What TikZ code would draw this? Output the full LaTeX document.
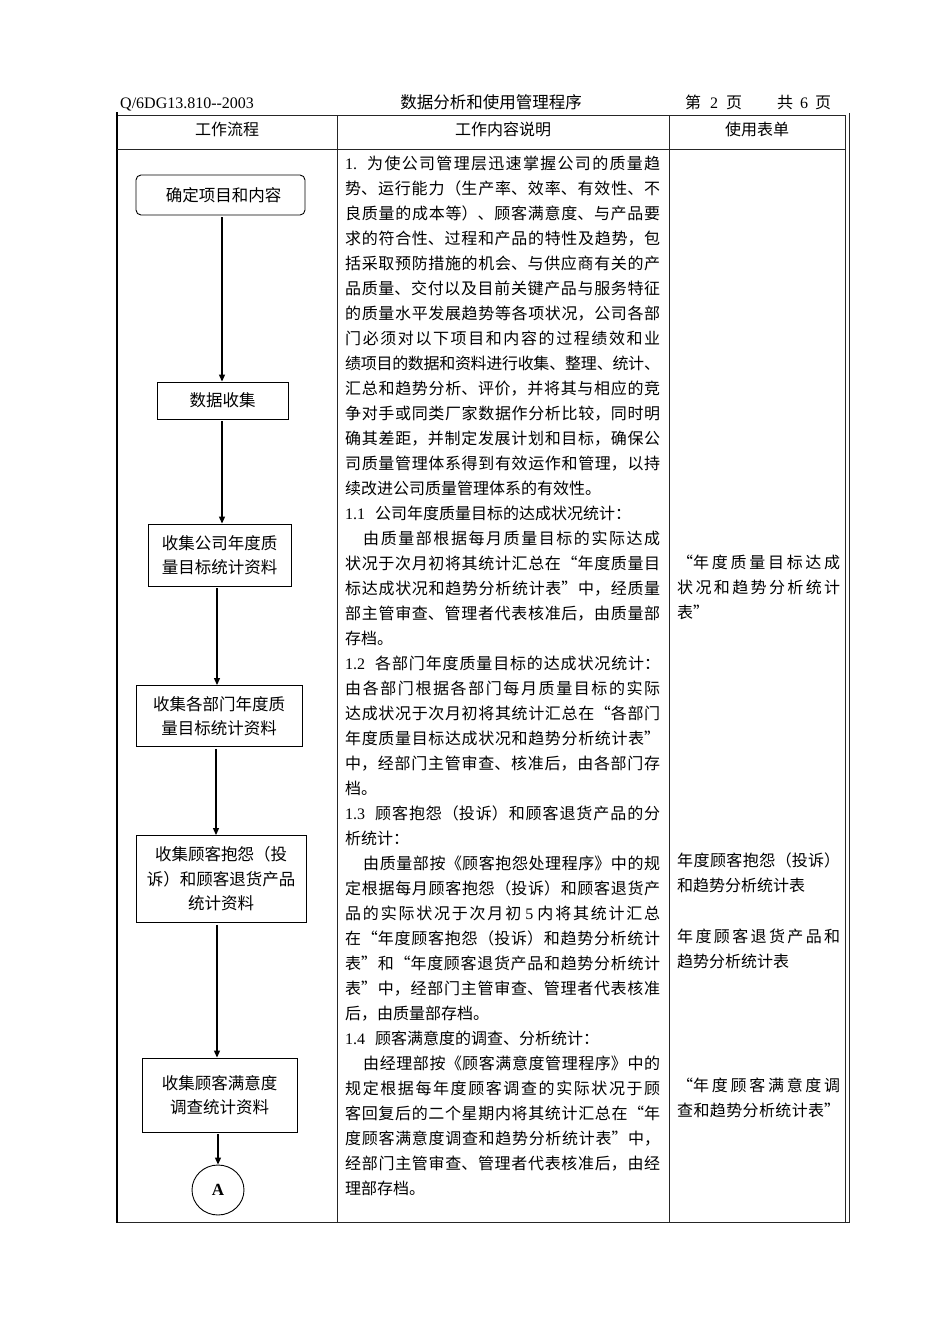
\documentclass[tikz,border=0pt]{standalone}
\usepackage{fontspec}
\setmainfont{Noto Sans CJK SC}
\newfontfamily\lat{Liberation Serif}
\usetikzlibrary{arrows.meta,shapes.geometric}
\XeTeXlinebreaklocale "zh"
\XeTeXlinebreakskip=0pt plus 6pt minus 1.5pt
\newcommand\jbox[2]{\parbox[t]{#1}{\parfillskip=0pt\tolerance=10000\pretolerance=-1 #2}}
\newcommand\Jl[2]{\node[ln] (m#1) at (345,{169+25*#1}) {\jbox{315pt}{#2}};}
\newcommand\Ji[2]{\node[ln] (m#1) at (363,{169+25*#1}) {\jbox{297pt}{#2}};}
\newcommand\Ll[2]{\node[ln] (m#1) at (345,{169+25*#1}) {#2};}
\begin{document}
\begin{tikzpicture}[x=1pt,y=-1pt,
  every node/.style={inner sep=0pt, font=\fontsize{16pt}{25pt}\selectfont},
  ln/.style={anchor=base west},
  tbl/.style={line width=1pt, draw=black!85},
  flow/.style={draw, line width=0.9pt, align=center, font=\fontsize{16.5pt}{24.5pt}\selectfont},
  arr/.style={-{Triangle[length=7pt,width=6pt]}, line width=1.2pt, shorten <=2pt}]
\useasboundingbox (0,0) rectangle (950,1344);
% header
\node[ln,font=\lat\fontsize{16pt}{18pt}\selectfont] (hcode) at (120,108) {Q/6DG13.810-{}-2003};
\node[anchor=base,font=\fontsize{16.5pt}{18pt}\selectfont] (htitle) at (491,108) {数据分析和使用管理程序};
\node[ln] (hpage) at (685,108) {第\hspace{9pt}{\lat 2}\hspace{8pt}页};
\node[ln] (htotal) at (777,108) {共\hspace{7pt}{\lat 6}\hspace{7pt}页};
% table
\draw[tbl] (117,115) rectangle (845,1222);
\draw[tbl] (849,113) -- (849,1223);
\draw[tbl] (845,1222) -- (849,1222);
\draw[line width=2pt] (117,112) -- (117,1223);
\draw[tbl] (117,149) -- (845,149);
\draw[tbl] (337,115) -- (337,1222);
\draw[tbl] (669,115) -- (669,1222);
\node[anchor=base] (c1) at (227,135) {工作流程};
\node[anchor=base] (c2) at (503,135) {工作内容说明};
\node[anchor=base] (c3) at (757,135) {使用表单};
% flow
\node[flow, rounded corners=5pt, minimum width=169, minimum height=40] (n1) at (220.5,195) {\hspace{6pt}确定项目和内容};
\node[flow, minimum width=131, minimum height=37] (n2) at (222.5,400.5) {数据收集};
\node[flow, minimum width=143, minimum height=62] (n3) at (219.5,555) {收集公司年度质\\量目标统计资料};
\node[flow, minimum width=166, minimum height=61] (n4) at (219,716) {收集各部门年度质\\量目标统计资料};
\node[flow, minimum width=170, minimum height=87] (n5) at (221,879) {收集顾客抱怨（投\\诉）和顾客退货产品\\统计资料};
\node[flow, minimum width=155, minimum height=74] (n6) at (219.5,1095) {收集顾客满意度\\调查统计资料};
\node[draw, ellipse, line width=0.9pt, minimum width=52, minimum height=50, font=\lat\bfseries\fontsize{17pt}{18pt}\selectfont] (nA) at (218,1190) {A};
\draw[arr] (n1.south -| 222,0) -- (n2.north -| 222,0);
\draw[arr] (n2.south -| 222,0) -- (n3.north -| 222,0);
\draw[arr] (n3.south -| 217,0) -- (n4.north -| 217,0);
\draw[arr] (n4.south -| 216,0) -- (n5.north -| 216,0);
\draw[arr] (n5.south -| 217,0) -- (n6.north -| 217,0);
\draw[arr] (n6.south -| 218,0) -- (nA.north -| 218,0);
% middle column
\Jl{0}{{\lat 1.}\hspace{10pt}为使公司管理层迅速掌握公司的质量趋}
\Jl{1}{势、运行能力（生产率、效率、有效性、不}
\Jl{2}{良质量的成本等）、顾客满意度、与产品要}
\Jl{3}{求的符合性、过程和产品的特性及趋势，包}
\Jl{4}{括采取预防措施的机会、与供应商有关的产}
\Jl{5}{品质量、交付以及目前关键产品与服务特征}
\Jl{6}{的质量水平发展趋势等各项状况，公司各部}
\Jl{7}{门必须对以下项目和内容的过程绩效和业}
\Jl{8}{绩项目的数据和资料进行收集、整理、统计、}
\Jl{9}{汇总和趋势分析、评价，并将其与相应的竞}
\Jl{10}{争对手或同类厂家数据作分析比较，同时明}
\Jl{11}{确其差距，并制定发展计划和目标，确保公}
\Jl{12}{司质量管理体系得到有效运作和管理，以持}
\Ll{13}{续改进公司质量管理体系的有效性。}
\Ll{14}{{\lat 1.1}\hspace{10pt}公司年度质量目标的达成状况统计：}
\Ji{15}{由质量部根据每月质量目标的实际达成}
\Jl{16}{状况于次月初将其统计汇总在“年度质量目}
\Jl{17}{标达成状况和趋势分析统计表”中，经质量}
\Jl{18}{部主管审查、管理者代表核准后，由质量部}
\Ll{19}{存档。}
\Jl{20}{{\lat 1.2}\hspace{10pt}各部门年度质量目标的达成状况统计：}
\Jl{21}{由各部门根据各部门每月质量目标的实际}
\Jl{22}{达成状况于次月初将其统计汇总在“各部门}
\Jl{23}{年度质量目标达成状况和趋势分析统计表”}
\Jl{24}{中，经部门主管审查、核准后，由各部门存}
\Ll{25}{档。}
\Jl{26}{{\lat 1.3}\hspace{10pt}顾客抱怨（投诉）和顾客退货产品的分}
\Ll{27}{析统计：}
\Ji{28}{由质量部按《顾客抱怨处理程序》中的规}
\Jl{29}{定根据每月顾客抱怨（投诉）和顾客退货产}
\Jl{30}{品的实际状况于次月初 {\lat 5} 内将其统计汇总}
\Jl{31}{在“年度顾客抱怨（投诉）和趋势分析统计}
\Jl{32}{表”和“年度顾客退货产品和趋势分析统计}
\Jl{33}{表”中，经部门主管审查、管理者代表核准}
\Ll{34}{后，由质量部存档。}
\Ll{35}{{\lat 1.4}\hspace{10pt}顾客满意度的调查、分析统计：}
\Ji{36}{由经理部按《顾客满意度管理程序》中的}
\Jl{37}{规定根据每年度顾客调查的实际状况于顾}
\Jl{38}{客回复后的二个星期内将其统计汇总在“年}
\Jl{39}{度顾客满意度调查和趋势分析统计表”中，}
\Jl{40}{经部门主管审查、管理者代表核准后，由经}
\Ll{41}{理部存档。}
% right column
\node[ln] (r1) at (677,568) {\jbox{163pt}{“年度质量目标达成}};
\node[ln] (r2) at (677,593) {\jbox{163pt}{状况和趋势分析统计}};
\node[ln] (r3) at (677,618) {表”};
\node[ln] (r4) at (677,866) {\jbox{163pt}{年度顾客抱怨（投诉）}};
\node[ln] (r5) at (677,891) {和趋势分析统计表};
\node[ln] (r6) at (677,942) {\jbox{163pt}{年度顾客退货产品和}};
\node[ln] (r7) at (677,967) {趋势分析统计表};
\node[ln] (r8) at (677,1091) {\jbox{163pt}{“年度顾客满意度调}};
\node[ln] (r9) at (677,1116) {\jbox{163pt}{查和趋势分析统计表”}};
\end{tikzpicture}
\end{document}
